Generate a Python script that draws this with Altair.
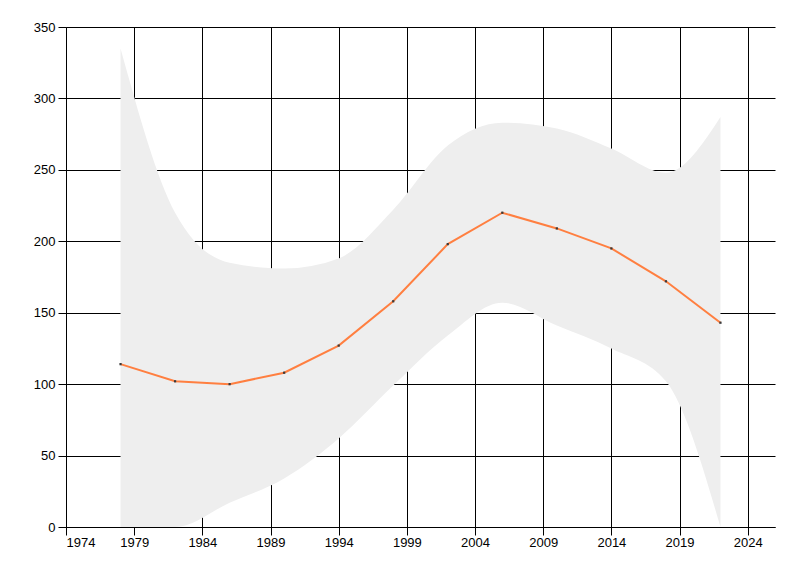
import altair as alt
import pandas as pd

years = [1978, 1982, 1986, 1990, 1994, 1998, 2002, 2006, 2010, 2014, 2018, 2022]
mean_vals = [114, 102, 100, 108, 127, 158, 198, 220, 209, 195, 172, 143]
upper_vals = [335, 220, 185, 181, 188, 222, 267, 283, 279, 265, 248, 287]
lower_vals = [0, 0, 17, 34, 62, 99, 134, 157, 141, 125, 102, 0]

x_ticks = [1974, 1979, 1984, 1989, 1994, 1999, 2004, 2009, 2014, 2019, 2024]
y_ticks = [0, 50, 100, 150, 200, 250, 300, 350]

df = pd.DataFrame({"year": years, "mean": mean_vals, "upper": upper_vals, "lower": lower_vals})

x = alt.X("year:Q", scale=alt.Scale(domain=[1974, 2026], nice=False, zero=False),
          axis=alt.Axis(values=x_ticks, format="d", title=None))
y = alt.Y("lower:Q", scale=alt.Scale(domain=[0, 350], nice=False),
          axis=alt.Axis(values=y_ticks, title=None))

band = alt.Chart(df).mark_area(color="#EEEEEE", opacity=1, interpolate="monotone", clip=True).encode(
    x=x, y=y, y2="upper:Q"
)
line = alt.Chart(df).mark_line(color="#FF7F40", strokeWidth=2).encode(
    x=x, y=alt.Y("mean:Q")
)
pts = alt.Chart(df).mark_square(color="#3A3A3A", size=5, opacity=1).encode(
    x=x, y=alt.Y("mean:Q")
)

chart = (band + line + pts).properties(
    width=709, height=500,
    autosize=alt.AutoSizeParams(type="none"),
    padding={"left": 58, "top": 19, "right": 10, "bottom": 30},
).configure(background="white").configure_view(stroke=None).configure_axis(
    grid=True, gridColor="#000000", gridOpacity=1, gridWidth=1,
    domainColor="#000000", domainWidth=1, tickColor="#000000", tickSize=8,
    labelColor="#000000", labelFont="Liberation Sans Narrow, Liberation Sans", labelFontSize=13,
    labelPadding=1,
).configure_axisY(labelPadding=3)

chart.save("out.html", embed_options={"renderer": "svg", "actions": False})
